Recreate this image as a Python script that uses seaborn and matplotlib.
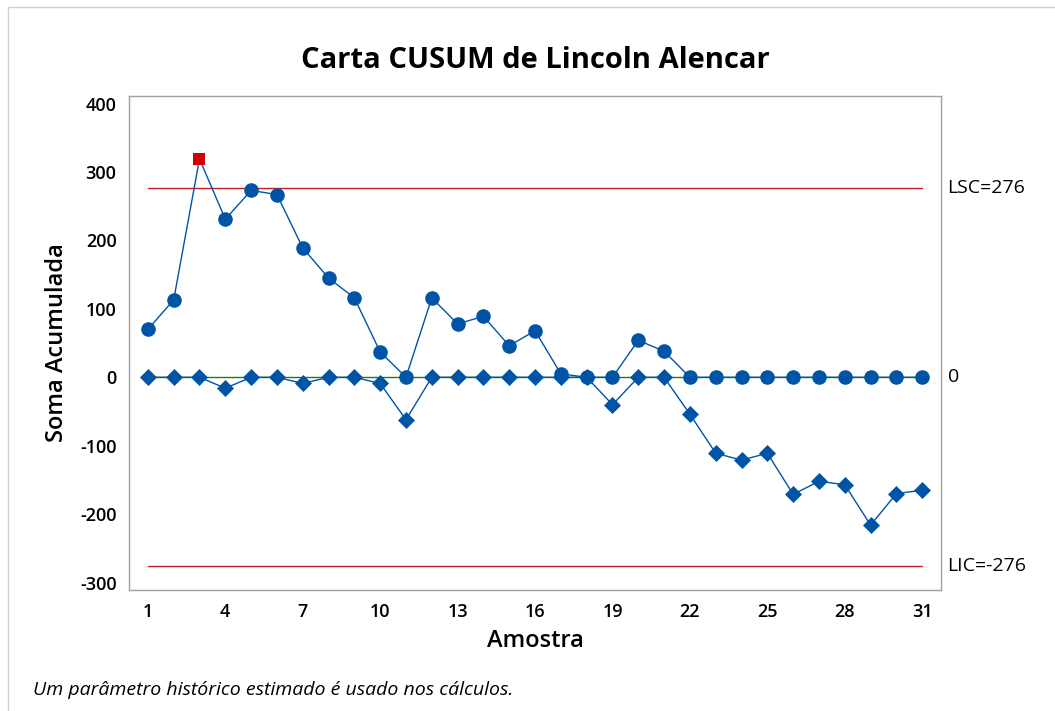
import numpy as np
import pandas as pd
import matplotlib
matplotlib.use("Agg")
import matplotlib.pyplot as plt
import seaborn as sns
from matplotlib.patches import Rectangle

# Data
amostra = list(range(1, 32))
cusum_sup = [70, 113, 319, 231, 273, 267, 189, 145, 116, 37, 0, 116, 78, 89, 46, 68,
             5, 0, 0, 54, 38, 0, 0, 0, 0, 0, 0, 0, 0, 0, 0]
cusum_inf = [0, 0, 0, -16, 0, 0, -9, 0, 0, -9, -62, 0, 0, 0, 0, 0,
             0, 0, -40, 0, 0, -54, -111, -121, -111, -171, -152, -157, -216, -170, -165]
lsc = 276
lic = -276
centro = 0
y_ticks = [-300, -200, -100, 0, 100, 200, 300, 400]
x_ticks = list(range(1, 32, 3))

df = pd.DataFrame({"Amostra": amostra, "Superior": cusum_sup, "Inferior": cusum_inf})
fora = df[(df["Superior"] > lsc) | (df["Superior"] < lic)]
dentro = df.drop(fora.index)

sns.set_style("white")
plt.rcParams["font.family"] = ["Open Sans", "DejaVu Sans"]
plt.rcParams["text.color"] = "black"
plt.rcParams["axes.labelcolor"] = "black"
plt.rcParams["axes.unicode_minus"] = False

azul = "#0054A6"
vermelho = "#C42020"

fig = plt.figure(figsize=(10.55, 7.11), dpi=100)
ax = fig.add_axes([0.1223, 0.170, 0.7697, 0.695])

# limit lines
ax.plot([amostra[0], amostra[-1]], [lsc, lsc], color=vermelho, lw=1.0, zorder=1)
ax.plot([amostra[0], amostra[-1]], [lic, lic], color=vermelho, lw=1.0, zorder=1)
ax.plot([amostra[0], amostra[-1]], [centro, centro], color="#1E7B1E", lw=1.0, zorder=1)

# connecting lines
sns.lineplot(data=df, x="Amostra", y="Superior", color=azul, lw=1.0, ax=ax, zorder=2)
sns.lineplot(data=df, x="Amostra", y="Inferior", color=azul, lw=1.0, ax=ax, zorder=2)

# markers
sns.scatterplot(data=df, x="Amostra", y="Inferior", color=azul, marker="D",
                s=75, linewidth=0, ax=ax, zorder=3)
sns.scatterplot(data=dentro, x="Amostra", y="Superior", color=azul, marker="o",
                s=110, linewidth=0, ax=ax, zorder=4)
sns.scatterplot(data=fora, x="Amostra", y="Superior", color="#D00000", marker="s",
                s=85, linewidth=0, ax=ax, zorder=4)

ax.set_xlim(0.27, 31.73)
ax.set_ylim(-311, 411)
ax.set_xticks(x_ticks)
ax.set_yticks(y_ticks)

for s in ax.spines.values():
    s.set_color("#A0A0A0")
    s.set_linewidth(1.0)
ax.tick_params(axis="both", direction="out", length=5, width=1, color="#A0A0A0",
               labelcolor="black", labelsize=13, pad=4)
for lab in ax.get_xticklabels() + ax.get_yticklabels():
    lab.set_fontweight("semibold")

ax.set_xlabel("Amostra", fontsize=17, fontweight="semibold", labelpad=6)
ax.set_ylabel("Soma Acumulada", fontsize=17, fontweight="semibold", labelpad=8)
ax.set_title("Carta CUSUM de Lincoln Alencar", fontsize=21, fontweight="bold", pad=20)

# right side labels
trans = ax.get_yaxis_transform()
ax.text(1.008, lsc, f"LSC={lsc}", transform=trans, va="center", ha="left", fontsize=14)
ax.text(1.008, centro, f"{centro}", transform=trans, va="center", ha="left", fontsize=14)
ax.text(1.008, lic, f"LIC={lic}", transform=trans, va="center", ha="left", fontsize=14)

fig.text(0.031, 0.029, "Um parâmetro histórico estimado é usado nos cálculos.",
         fontsize=14, style="italic", ha="left", va="center")

# thin frame round the figure
fig.patches.append(Rectangle((0.008, -0.01), 1.1, 1.0, transform=fig.transFigure,
                             fill=False, edgecolor="#D0D0D0", lw=1.0))

fig.savefig("out.png", dpi=100)
